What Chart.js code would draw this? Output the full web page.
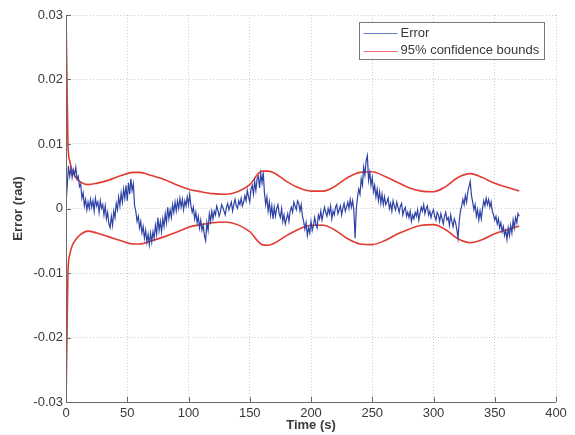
<!DOCTYPE html>
<html>
<head>
<meta charset="utf-8">
<script src="https://cdn.jsdelivr.net/npm/chart.js@4/dist/chart.umd.min.js"></script>
<style>
  html, body { margin: 0; padding: 0; background: #ffffff; }
  #wrap { width: 575px; height: 435px; }
</style>
</head>
<body>
<div id="wrap"><canvas id="c" width="575" height="435"></canvas></div>
<script>
// ---- Data ----
const errorStep = 1; // seconds between error samples
const errorValues = [
  0.0008, 0.0035, 0.0066, 0.0050, 0.0062, 0.0048, 0.0060, 0.0052, 0.0064, 0.0046,
  0.0050, 0.0034, 0.0038, 0.0016, 0.0024, 0.0004, 0.0014, -0.0002, 0.0010, 0.0000,
  0.0014, 0.0002, 0.0012, -0.0004, 0.0016, 0.0004, 0.0010, -0.0006, 0.0012, 0.0000,
  0.0006, -0.0010, 0.0004, -0.0016, -0.0006, -0.0024, -0.0030, -0.0012, -0.0026, -0.0004,
  -0.0014, 0.0008, -0.0002, 0.0018, 0.0004, 0.0024, 0.0010, 0.0030, 0.0016, 0.0036,
  0.0012, 0.0040, 0.0022, 0.0046, 0.0028, 0.0038, 0.0004, -0.0004, -0.0020, -0.0012,
  -0.0030, -0.0020, -0.0038, -0.0028, -0.0046, -0.0034, -0.0052, -0.0040, -0.0056, -0.0038,
  -0.0052, -0.0036, -0.0046, -0.0026, -0.0040, -0.0014, -0.0034, -0.0020, -0.0036, -0.0016,
  -0.0028, -0.0008, -0.0022, 0.0002, -0.0016, -0.0002, -0.0014, 0.0006, -0.0006, 0.0010,
  -0.0004, 0.0012, 0.0000, 0.0016, 0.0002, 0.0014, -0.0002, 0.0012, 0.0004, 0.0018,
  0.0006, 0.0022, 0.0004, -0.0006, 0.0002, -0.0016, -0.0006, -0.0022, -0.0012, -0.0030,
  -0.0018, -0.0034, -0.0026, -0.0042, -0.0050, -0.0022, -0.0034, -0.0008, -0.0020, -0.0004,
  -0.0016, -0.0004, -0.0010, 0.0004, -0.0002, -0.0012, -0.0006, 0.0006, 0.0002, -0.0004,
  -0.0010, 0.0002, 0.0008, -0.0002, 0.0004, 0.0010, -0.0004, 0.0006, 0.0014, 0.0004,
  0.0000, 0.0012, 0.0006, 0.0016, 0.0004, 0.0010, 0.0020, 0.0012, 0.0028, 0.0018,
  0.0010, 0.0030, 0.0036, 0.0022, 0.0042, 0.0028, 0.0046, 0.0050, 0.0032, 0.0054,
  0.0040, 0.0056, 0.0024, 0.0006, 0.0018, -0.0004, 0.0010, -0.0010, 0.0004, -0.0016,
  0.0002, -0.0012, 0.0000, 0.0006, -0.0008, -0.0014, 0.0000, -0.0020, -0.0010, -0.0024,
  -0.0016, -0.0008, -0.0020, -0.0004, 0.0002, -0.0006, 0.0010, 0.0004, -0.0002, 0.0012,
  0.0008, -0.0004, 0.0006, -0.0012, -0.0020, -0.0032, -0.0022, -0.0042, -0.0030, -0.0038,
  -0.0020, -0.0034, -0.0026, -0.0014, -0.0024, -0.0030, -0.0010, -0.0016, -0.0004, -0.0018,
  -0.0008, 0.0002, -0.0006, -0.0012, 0.0000, -0.0008, 0.0004, -0.0016, -0.0004, -0.0010,
  0.0002, 0.0006, -0.0008, -0.0002, 0.0004, -0.0010, 0.0000, 0.0008, -0.0004, 0.0002,
  0.0010, 0.0000, 0.0014, 0.0002, 0.0012, -0.0004, -0.0046, 0.0000, 0.0018, 0.0030,
  0.0022, 0.0046, 0.0036, 0.0064, 0.0052, 0.0074, 0.0082, 0.0044, 0.0056, 0.0036,
  0.0048, 0.0026, 0.0036, 0.0018, 0.0030, 0.0012, 0.0026, 0.0008, 0.0022, 0.0006,
  0.0018, 0.0006, 0.0010, 0.0016, 0.0000, 0.0008, -0.0004, 0.0012, 0.0004, -0.0002,
  0.0010, 0.0002, -0.0006, 0.0004, 0.0008, -0.0010, -0.0002, 0.0002, -0.0012, -0.0006,
  -0.0014, -0.0004, -0.0020, -0.0010, -0.0016, -0.0006, -0.0012, -0.0002, -0.0018, -0.0008,
  0.0002, -0.0004, 0.0006, -0.0008, 0.0000, 0.0004, -0.0010, -0.0004, -0.0014, -0.0006,
  -0.0002, -0.0012, -0.0018, -0.0006, -0.0010, -0.0020, -0.0008, -0.0016, -0.0024, -0.0012,
  -0.0006, -0.0018, -0.0014, -0.0026, -0.0010, -0.0020, -0.0028, -0.0016, -0.0022, -0.0032,
  -0.0046, -0.0020, -0.0004, 0.0004, 0.0014, 0.0006, 0.0020, 0.0010, 0.0026, 0.0034,
  0.0042, 0.0020, 0.0010, -0.0002, 0.0006, -0.0012, -0.0002, -0.0018, -0.0004, -0.0016,
  0.0000, 0.0012, 0.0004, 0.0016, 0.0006, 0.0014, 0.0002, 0.0010, -0.0004, -0.0010,
  -0.0018, -0.0012, -0.0024, -0.0016, -0.0030, -0.0022, -0.0036, -0.0028, -0.0042, -0.0034,
  -0.0048, -0.0030, -0.0042, -0.0026, -0.0038, -0.0018, -0.0030, -0.0014, -0.0022, -0.0008,
  -0.0012
];
const boundTimes = [
  0, 0.8, 1.6, 3, 5, 8, 12, 18, 25, 35, 45, 55, 60, 70, 80, 90, 100, 110, 120, 130,
  140, 150, 160, 165, 170, 180, 190, 200, 210, 220, 230, 240, 250, 260, 270, 280, 290,
  300, 310, 320, 330, 340, 350, 360, 370
];
const upperBound = [
  0.0300, 0.0200, 0.0100, 0.0074, 0.0059, 0.0048, 0.0041, 0.0037, 0.0039, 0.0044,
  0.0051, 0.0056, 0.0056, 0.0051, 0.0045, 0.0037, 0.0030, 0.0026, 0.0023, 0.0022,
  0.0026, 0.0037, 0.0058, 0.0058, 0.0055, 0.0042, 0.0032, 0.0027, 0.0027, 0.0035,
  0.0048, 0.0056, 0.0057, 0.0050, 0.0041, 0.0032, 0.0027, 0.0026, 0.0034, 0.0048,
  0.0054, 0.0048, 0.0039, 0.0033, 0.0027
];
const lowerBound = [
  -0.0300, -0.0200, -0.0100, -0.0072, -0.0058, -0.0048, -0.0040, -0.0035, -0.0038, -0.0044,
  -0.0050, -0.0055, -0.0055, -0.0050, -0.0044, -0.0037, -0.0029, -0.0025, -0.0022, -0.0021,
  -0.0025, -0.0036, -0.0056, -0.0057, -0.0054, -0.0042, -0.0032, -0.0026, -0.0026, -0.0034,
  -0.0047, -0.0055, -0.0056, -0.0050, -0.0040, -0.0032, -0.0026, -0.0025, -0.0033, -0.0047,
  -0.0053, -0.0048, -0.0039, -0.0033, -0.0027
];
const xTicks = [0, 50, 100, 150, 200, 250, 300, 350, 400];
const yTicks = [-0.03, -0.02, -0.01, 0, 0.01, 0.02, 0.03];
const seriesLabels = ['Error', '95% confidence bounds'];
const xTitle = 'Time (s)';
const yTitle = 'Error (rad)';

// ---- Build datasets ----
const errorPoints = errorValues.map((v, i) => ({ x: i * errorStep, y: v }));
const upperPoints = boundTimes.map((t, i) => ({ x: t, y: upperBound[i] }));
const lowerPoints = boundTimes.map((t, i) => ({ x: t, y: lowerBound[i] }));

const BLUE = '#2f42a6';
const RED = '#e23b30';
const TEXT = '#3a3a3a';
const AXIS = '#6b6b6b';
const FONT = "'Liberation Sans', Arial, Helvetica, sans-serif";

const matlabPlugin = {
  id: 'matlabAxes',
  afterDatasetsDraw(chart) {
    const ctx = chart.ctx;
    const ca = chart.chartArea;
    const xs = chart.scales.x, ys = chart.scales.y;
    ctx.save();
    ctx.strokeStyle = AXIS;
    ctx.lineWidth = 1;
    ctx.beginPath();
    ctx.moveTo(ca.left + 0.5, ca.top);
    ctx.lineTo(ca.left + 0.5, ca.bottom + 0.5);
    ctx.lineTo(ca.right, ca.bottom + 0.5);
    ctx.stroke();
    // inward ticks
    ctx.beginPath();
    xTicks.forEach(v => {
      const px = Math.round(xs.getPixelForValue(v)) + 0.5;
      ctx.moveTo(px, ca.bottom);
      ctx.lineTo(px, ca.bottom - 5);
    });
    yTicks.forEach(v => {
      const py = Math.round(ys.getPixelForValue(v)) + 0.5;
      ctx.moveTo(ca.left, py);
      ctx.lineTo(ca.left + 5, py);
    });
    ctx.stroke();
    ctx.restore();
  },
  afterDraw(chart) {
    const ctx = chart.ctx;
    const ca = chart.chartArea;
    const boxW = 185, boxH = 37;
    const bx = ca.right - 12 - boxW + 0.5;
    const by = ca.top + 7 + 0.5;
    ctx.save();
    ctx.fillStyle = '#ffffff';
    ctx.fillRect(bx, by, boxW, boxH);
    ctx.strokeStyle = '#7a7a7a';
    ctx.lineWidth = 1;
    ctx.strokeRect(bx, by, boxW, boxH);
    const colors = [BLUE, RED];
    ctx.font = '13px ' + FONT;
    ctx.textBaseline = 'middle';
    ctx.textAlign = 'left';
    seriesLabels.forEach((lab, i) => {
      const ly = by + 10.5 + i * 17.5;
      ctx.strokeStyle = colors[i];
      ctx.globalAlpha = 0.7;
      ctx.lineWidth = 1;
      ctx.beginPath();
      ctx.moveTo(bx + 4, Math.round(ly) + 0.5);
      ctx.lineTo(bx + 38, Math.round(ly) + 0.5);
      ctx.stroke();
      ctx.globalAlpha = 1;
      ctx.fillStyle = TEXT;
      ctx.fillText(lab, bx + 41, ly);
    });
    ctx.restore();
  }
};

new Chart(document.getElementById('c'), {
  type: 'line',
  data: {
    datasets: [
      { label: seriesLabels[0], data: errorPoints, borderColor: BLUE, borderWidth: 1.2,
        pointRadius: 0, tension: 0, fill: false },
      { label: seriesLabels[1], data: upperPoints, borderColor: RED, borderWidth: 1.6,
        pointRadius: 0, cubicInterpolationMode: 'monotone', fill: false },
      { label: seriesLabels[1] + ' (lower)', data: lowerPoints, borderColor: RED, borderWidth: 1.6,
        pointRadius: 0, cubicInterpolationMode: 'monotone', fill: false }
    ]
  },
  options: {
    responsive: false,
    animation: false,
    devicePixelRatio: 1,
    layout: { padding: { left: 0, right: 19, top: 15, bottom: 0 } },
    plugins: { legend: { display: false }, tooltip: { enabled: false } },
    scales: {
      x: {
        type: 'linear', min: 0, max: 400,
        afterBuildTicks: s => { s.ticks = xTicks.map(v => ({ value: v })); },
        afterFit: s => { s.height = 33; },
        grid: { color: '#cfcfcf', lineWidth: 1, drawTicks: false },
        border: { display: false, dash: [1, 2] },
        ticks: { color: TEXT, font: { family: FONT, size: 13 }, padding: 4, maxRotation: 0,
                 callback: v => String(v) },
        title: { display: true, text: xTitle, color: TEXT,
                 font: { family: FONT, size: 13, weight: 'bold' }, padding: { top: 0, bottom: 2 } }
      },
      y: {
        type: 'linear', min: -0.03, max: 0.03,
        afterBuildTicks: s => { s.ticks = yTicks.map(v => ({ value: v })); },
        afterFit: s => { s.width = 66; },
        grid: { color: '#cfcfcf', lineWidth: 1, drawTicks: false },
        border: { display: false, dash: [1, 2] },
        ticks: { color: TEXT, font: { family: FONT, size: 13 }, padding: 3,
                 callback: v => String(Number(v.toFixed(2))) },
        title: { display: true, text: yTitle, color: TEXT,
                 font: { family: FONT, size: 13, weight: 'bold' }, padding: { top: 11, bottom: 0 } }
      }
    }
  },
  plugins: [matlabPlugin]
});
</script>
</body>
</html>
